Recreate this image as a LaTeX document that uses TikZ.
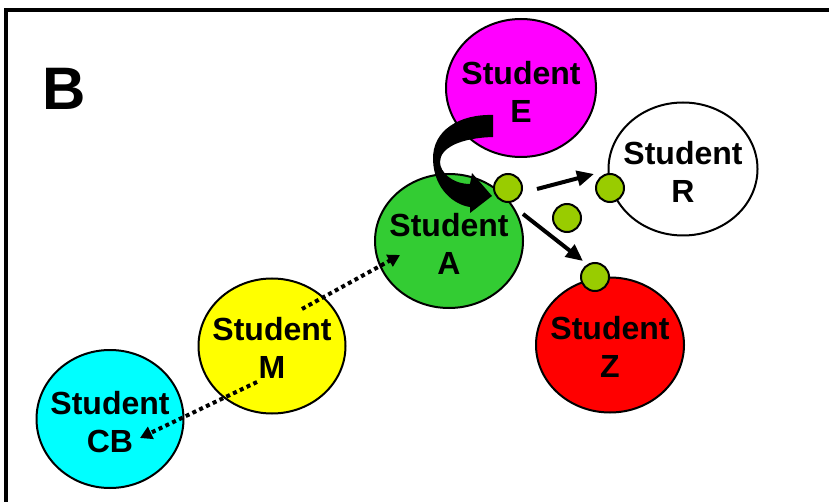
\documentclass[tikz,border=0pt]{standalone}
\usepackage{fontspec}
\setmainfont{Liberation Sans}
\usetikzlibrary{shapes.geometric,arrows.meta}
\definecolor{dotgreen}{HTML}{99CC00}
\definecolor{agreen}{HTML}{33CC33}
\definecolor{emag}{HTML}{FF00FF}
\definecolor{cbcyan}{HTML}{00FFFF}
\definecolor{myellow}{HTML}{FFFF00}
\definecolor{zred}{HTML}{FF0000}
\begin{document}
\begin{tikzpicture}[x=1pt,y=-1pt,
  studentshape/.style={ellipse,draw=black,line width=2pt,inner sep=0pt},
  studenttext/.style={align=center,inner sep=0pt,font=\fontsize{32}{38}\selectfont\bfseries},
  dot/.style={circle,draw=black,line width=2pt,fill=dotgreen,minimum size=28pt,inner sep=0pt},
  solidarrow/.style={line width=4pt,-{Triangle[length=17pt,width=15pt]}},
  dottedarrow/.style={line width=4pt,dash pattern=on 4pt off 3.5pt,-{Triangle[length=12pt,width=13pt]}}
]
\useasboundingbox (0,0) rectangle (829,502);
\draw[line width=3.5pt] (6,502) -- (6,10) -- (829,10);
\node[font=\fontsize{60}{60}\selectfont\bfseries,anchor=base west,inner sep=0pt] (lbl) at (42,110) {B};

% ellipses
\node[studentshape,fill=emag,minimum width=150pt,minimum height=138pt] (E) at (521,88) {};
\node[studentshape,fill=white,minimum width=149pt,minimum height=133pt] (R) at (683,169) {};
\node[studentshape,fill=agreen,minimum width=148pt,minimum height=134pt] (A) at (449,241) {};
\node[studentshape,fill=myellow,minimum width=147pt,minimum height=135pt] (M) at (272,346) {};
\node[studentshape,fill=cbcyan,minimum width=147pt,minimum height=138pt] (CB) at (110,419) {};
\node[studentshape,fill=zred,minimum width=148pt,minimum height=135pt] (Z) at (610,345) {};

% curved thick arrow
\fill[black] (493,115) .. controls (460,114) and (432,130) .. (433,160)
  .. controls (434,190) and (455,205) .. (470,207) -- (470,213) -- (492,196) -- (472,173) -- (470,184)
  .. controls (452,184) and (440,172) .. (440,162)
  .. controls (440,148) and (460,138) .. (493,137) -- cycle;

% texts
\node[studenttext] (tE) at ([yshift=-4pt]E.center) {Student\\E};
\node[studenttext] (tR) at ([yshift=-3pt]R.center) {Student\\R};
\node[studenttext] (tA) at ([yshift=-3pt]A.center) {Student\\A};
\node[studenttext] (tM) at ([yshift=-2pt]M.center) {Student\\M};
\node[studenttext] (tCB) at ([yshift=-3pt]CB.center) {Student\\CB};
\node[studenttext] (tZ) at ([yshift=-2pt]Z.center) {Student\\Z};

% small green dots
\node[dot] (d1) at (508,188) {};
\node[dot] (d2) at (610,188) {};
\node[dot] (d3) at (567,218) {};
\node[dot] (d4) at (595,277) {};

% arrows
\coordinate (s1) at (537,189);
\coordinate (e1) at (594,174);
\coordinate (s2) at (523,214);
\coordinate (e2) at (583,261);
\draw[solidarrow] (s1) -- (e1);
\draw[solidarrow] (s2) -- (e2);

\coordinate (m1) at (302,309);
\coordinate (a1) at (400,255);
\coordinate (m2) at (257,382);
\coordinate (c1) at (140,438);
\draw[dottedarrow] (m1) -- (a1);
\draw[dottedarrow] (m2) -- (c1);
\end{tikzpicture}
\end{document}
